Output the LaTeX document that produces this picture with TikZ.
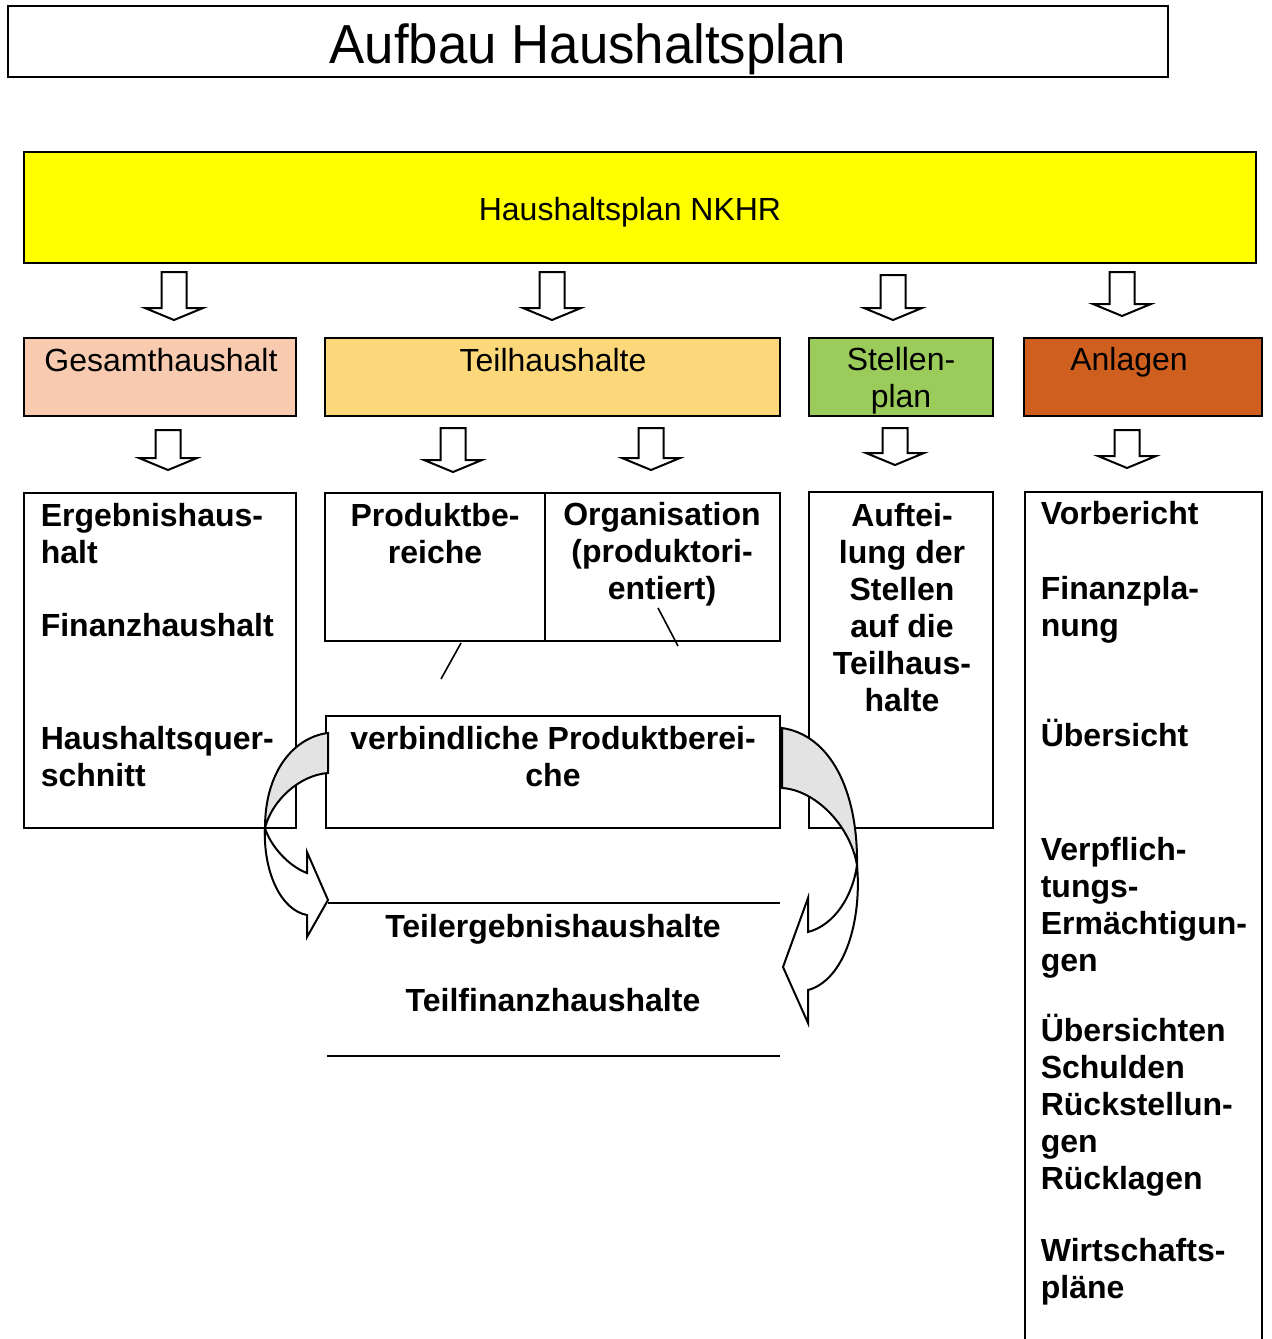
\documentclass[tikz,border=0pt]{standalone}
\usepackage{fontspec}
\setmainfont{Liberation Sans}
\usetikzlibrary{fit}

\definecolor{planyellow}{HTML}{FFFF00}
\definecolor{gesamtrose}{HTML}{F8CBB0}
\definecolor{teilorange}{HTML}{FDD87A}
\definecolor{stellengreen}{HTML}{9BCB5B}
\definecolor{anlagenbrown}{HTML}{CF5F1E}

\begin{document}
\begin{tikzpicture}[x=0.5pt, y=-0.5pt, line width=0.8pt,
    box/.style={draw, inner sep=0pt},
    head/.style={font=\fontsize{16}{18.5}\selectfont, inner sep=0pt, anchor=base},
    body/.style={font=\bfseries\fontsize{16}{18.5}\selectfont, inner sep=0pt, align=left, anchor=north west},
    bodyc/.style={body, align=center, anchor=north},
    hollow/.style={draw, fill=white, line width=1pt, line join=miter},
    turnback/.style={draw, fill=gray!22, line width=1pt},
    turnfront/.style={draw, fill=white, line width=1pt, line join=miter}]
    \useasboundingbox (0,0) rectangle (1271,1339);

    % title
    \node[box, line width=1pt, fit={(8,6) (1168,77)}] (title) {};
    \node[anchor=base, inner sep=0pt, font=\fontsize{27.5}{33}\selectfont] (titletxt) at (588,63) {\scalebox{0.96}[1]{Aufbau Haushaltsplan}};

    % top level
    \node[box, fill=planyellow, fit={(24,152) (1256,263)}] (plan) {};
    \node[head] (plantxt) at (630,220) {Haushaltsplan NKHR};

    % second level
    \node[box, fill=gesamtrose, fit={(24,338) (296,416)}] (gesamt) {};
    \node[head] (gesamttxt) at (161,371) {Gesamthaushalt};
    \node[box, fill=teilorange, fit={(325,338) (780,416)}] (teil) {};
    \node[head] (teiltxt) at (553,371) {Teilhaushalte};
    \node[box, fill=stellengreen, fit={(809,338) (993,416)}] (stellen) {};
    \node[head, align=center, anchor=north] (stellentxt) at (901,347) {Stellen-\\plan};
    \node[box, fill=anlagenbrown, fit={(1024,338) (1262,416)}] (anlagen) {};
    \node[head] (anlagentxt) at (1129,370) {Anlagen};

    % hollow arrows
    \foreach \cx/\ty/\tb in {174/272/320, 552/272/320, 893/275/320, 1122/272/316,
                             168/430/470, 453/428/472, 651/428/470, 895/428/465, 1127/430/468} {
        \draw[hollow] (\cx-12.5,\ty) -- (\cx+12.5,\ty) -- (\cx+12.5,\tb-12) -- (\cx+29,\tb-12)
            -- (\cx,\tb) -- (\cx-29,\tb-12) -- (\cx-12.5,\tb-12) -- cycle;
    }

    % third level
    \node[box, fit={(24,493) (296,828)}] (ergebnis) {};
    \node[body] (ergebnistxt) at (40,503) {Ergebnishaus-\\halt};
    \node[body] (finanztxt) at (40,613) {Finanzhaushalt};
    \node[body] (quertxt) at (40,726) {Haushaltsquer-\\schnitt};

    \node[box, fit={(325,493) (545,641)}] (produkt) {};
    \node[bodyc] (produkttxt) at (435,503) {Produktbe-\\reiche};
    \node[box, fit={(545,493) (780,641)}] (organisation) {};
    \node[bodyc] (organisationtxt) at (662,502) {Organisation\\(produktori-\\entiert)};
    \draw (461,643) -- (441,679);
    \draw (658,608) -- (678,646);

    \node[box, fit={(326,716) (780,828)}] (verbindlich) {};
    \node[bodyc] (verbindlichtxt) at (553,726) {verbindliche Produktberei-\\che};

    \node[box, fit={(809,492) (993,828)}] (aufteilung) {};
    \node[bodyc] (aufteilungtxt) at (902,503) {Auftei-\\lung der\\Stellen\\auf die\\Teilhaus-\\halte};

    \draw (1025,1345) |- (1262,492) -- (1262,1345);
    \node[body] (vorberichttxt) at (1040,501) {Vorbericht};
    \node[body] (finanzplantxt) at (1040,576) {Finanzpla-\\nung};
    \node[body] (uebersichttxt) at (1040,718) {Übersicht};
    \node[body] (verpflichttxt) at (1040,837) {Verpflich-\\tungs-\\Ermächtigun-\\gen};
    \node[body] (schuldentxt) at (1040,1013) {Übersichten\\Schulden\\Rückstellun-\\gen\\Rücklagen};
    \node[body] (wirtschafttxt) at (1040,1237) {Wirtschafts-\\pläne};

    % partial budgets
    \draw (328,903) -- (780,903);
    \draw (327,1056) -- (780,1056);
    \node[head, font=\bfseries\fontsize{16}{18.5}\selectfont] (teilergtxt) at (553,937) {Teilergebnishaushalte};
    \node[head, font=\bfseries\fontsize{16}{18.5}\selectfont] (teilfintxt) at (553,1011) {Teilfinanzhaushalte};

    % curved arrows
    \draw[turnback] (328,733) .. controls (295,737) and (265,770) .. (265,828)
        .. controls (272,800) and (300,775) .. (328,773) -- cycle;
    \draw[turnfront] (265,828) .. controls (263,870) and (280,910) .. (307,915)
        -- (307,937) -- (328,900) -- (307,852) -- (307,873)
        .. controls (288,866) and (270,845) .. (265,828) -- cycle;
    \draw[turnback] (782,728) .. controls (830,735) and (858,790) .. (857,865)
        .. controls (850,825) and (815,790) .. (782,788) -- cycle;
    \draw[turnfront] (857,865) .. controls (862,920) and (845,980) .. (808,990)
        -- (808,1023) -- (783,967) -- (808,898) -- (808,932)
        .. controls (835,925) and (853,895) .. (857,865) -- cycle;
\end{tikzpicture}
\end{document}
